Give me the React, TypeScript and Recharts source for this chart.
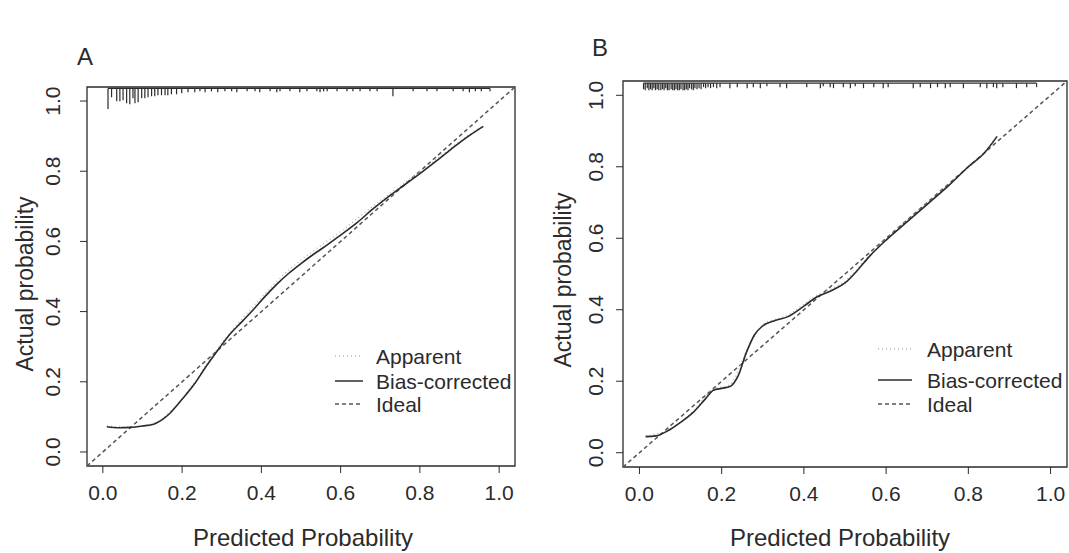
import {
  ComposedChart,
  Line,
  ReferenceArea,
  ReferenceLine,
  XAxis,
  YAxis,
} from "recharts";

const xTicks = [0, 0.2, 0.4, 0.6, 0.8, 1];
const yTicks = [0, 0.2, 0.4, 0.6, 0.8, 1];
const limits: [number, number] = [-0.04, 1.04];
const ideal = [
  { p: -0.04, v: -0.04 },
  { p: 1.04, v: 1.04 },
];
const legendLabels = ["Apparent", "Bias-corrected", "Ideal"];

const biasA = [
  { p: 0.01, v: 0.072 }, { p: 0.04, v: 0.069 }, { p: 0.07, v: 0.07 },
  { p: 0.1, v: 0.074 }, { p: 0.13, v: 0.08 }, { p: 0.15, v: 0.092 },
  { p: 0.17, v: 0.111 }, { p: 0.2, v: 0.15 }, { p: 0.23, v: 0.192 },
  { p: 0.26, v: 0.243 }, { p: 0.29, v: 0.29 }, { p: 0.32, v: 0.335 },
  { p: 0.35, v: 0.37 }, { p: 0.38, v: 0.406 }, { p: 0.41, v: 0.444 },
  { p: 0.44, v: 0.479 }, { p: 0.47, v: 0.51 }, { p: 0.5, v: 0.537 },
  { p: 0.53, v: 0.562 }, { p: 0.56, v: 0.585 }, { p: 0.6, v: 0.618 },
  { p: 0.64, v: 0.652 }, { p: 0.68, v: 0.691 }, { p: 0.72, v: 0.727 },
  { p: 0.76, v: 0.76 }, { p: 0.8, v: 0.793 }, { p: 0.84, v: 0.828 },
  { p: 0.88, v: 0.864 }, { p: 0.92, v: 0.898 }, { p: 0.96, v: 0.928 },
];

const apparentA = [
  { p: 0.01, v: 0.074 }, { p: 0.07, v: 0.071 }, { p: 0.13, v: 0.082 },
  { p: 0.17, v: 0.115 }, { p: 0.23, v: 0.196 }, { p: 0.29, v: 0.296 },
  { p: 0.35, v: 0.378 }, { p: 0.41, v: 0.452 }, { p: 0.47, v: 0.519 },
  { p: 0.53, v: 0.572 }, { p: 0.6, v: 0.628 }, { p: 0.68, v: 0.699 },
  { p: 0.76, v: 0.766 }, { p: 0.84, v: 0.833 }, { p: 0.92, v: 0.901 },
  { p: 0.96, v: 0.93 },
];

const biasB = [
  { p: 0.015, v: 0.045 }, { p: 0.04, v: 0.047 }, { p: 0.07, v: 0.062 },
  { p: 0.1, v: 0.085 }, { p: 0.13, v: 0.112 }, { p: 0.16, v: 0.15 },
  { p: 0.18, v: 0.175 }, { p: 0.2, v: 0.18 }, { p: 0.22, v: 0.185 },
  { p: 0.24, v: 0.215 }, { p: 0.26, v: 0.28 }, { p: 0.28, v: 0.33 },
  { p: 0.3, v: 0.355 }, { p: 0.33, v: 0.37 }, { p: 0.36, v: 0.38 },
  { p: 0.4, v: 0.41 }, { p: 0.43, v: 0.435 }, { p: 0.47, v: 0.455 },
  { p: 0.5, v: 0.475 }, { p: 0.53, v: 0.51 }, { p: 0.56, v: 0.55 },
  { p: 0.6, v: 0.595 }, { p: 0.65, v: 0.645 }, { p: 0.7, v: 0.695 },
  { p: 0.75, v: 0.745 }, { p: 0.8, v: 0.8 }, { p: 0.84, v: 0.84 },
  { p: 0.87, v: 0.885 },
];

const apparentB = [
  { p: 0.015, v: 0.047 }, { p: 0.07, v: 0.064 }, { p: 0.13, v: 0.115 },
  { p: 0.18, v: 0.178 }, { p: 0.22, v: 0.19 }, { p: 0.26, v: 0.283 },
  { p: 0.3, v: 0.358 }, { p: 0.36, v: 0.385 }, { p: 0.43, v: 0.44 },
  { p: 0.5, v: 0.48 }, { p: 0.56, v: 0.553 }, { p: 0.65, v: 0.648 },
  { p: 0.75, v: 0.748 }, { p: 0.84, v: 0.842 }, { p: 0.87, v: 0.887 },
];

// distribution of predicted risks drawn at the top (p, count)
const rugA = [
  { p: 0.013, n: 21 }, { p: 0.022, n: 9 }, { p: 0.035, n: 13 }, { p: 0.043, n: 13 },
  { p: 0.051, n: 12 }, { p: 0.06, n: 15 }, { p: 0.068, n: 16 }, { p: 0.076, n: 10 },
  { p: 0.081, n: 15 }, { p: 0.089, n: 14 }, { p: 0.098, n: 10 }, { p: 0.106, n: 10 },
  { p: 0.114, n: 9 }, { p: 0.123, n: 8 }, { p: 0.131, n: 8 }, { p: 0.139, n: 7 },
  { p: 0.148, n: 7 }, { p: 0.157, n: 7 }, { p: 0.164, n: 7 }, { p: 0.173, n: 6 },
  { p: 0.186, n: 6 }, { p: 0.199, n: 5 }, { p: 0.215, n: 4 }, { p: 0.232, n: 4 },
  { p: 0.245, n: 3 }, { p: 0.258, n: 4 }, { p: 0.274, n: 3 }, { p: 0.29, n: 4 },
  { p: 0.308, n: 3 }, { p: 0.325, n: 3 }, { p: 0.338, n: 4 }, { p: 0.364, n: 3 },
  { p: 0.384, n: 3 }, { p: 0.396, n: 4 }, { p: 0.422, n: 3 }, { p: 0.439, n: 4 },
  { p: 0.447, n: 3 }, { p: 0.472, n: 3 }, { p: 0.497, n: 4 }, { p: 0.515, n: 3 },
  { p: 0.54, n: 3 }, { p: 0.548, n: 4 }, { p: 0.557, n: 3 }, { p: 0.566, n: 3 },
  { p: 0.591, n: 3 }, { p: 0.616, n: 3 }, { p: 0.631, n: 3 }, { p: 0.649, n: 3 },
  { p: 0.674, n: 3 }, { p: 0.692, n: 3 }, { p: 0.732, n: 8 }, { p: 0.783, n: 3 },
  { p: 0.818, n: 3 }, { p: 0.843, n: 3 }, { p: 0.884, n: 3 }, { p: 0.909, n: 3 },
  { p: 0.925, n: 4 }, { p: 0.94, n: 3 }, { p: 0.955, n: 3 }, { p: 0.977, n: 3 },
];

const rugB = [
  { p: 0.01, n: 6 }, { p: 0.014, n: 7 }, { p: 0.019, n: 5 }, { p: 0.023, n: 7 },
  { p: 0.027, n: 6 }, { p: 0.031, n: 7 }, { p: 0.035, n: 5 }, { p: 0.039, n: 7 },
  { p: 0.043, n: 6 }, { p: 0.047, n: 7 }, { p: 0.052, n: 7 }, { p: 0.056, n: 6 },
  { p: 0.06, n: 7 }, { p: 0.064, n: 5 }, { p: 0.068, n: 7 }, { p: 0.072, n: 7 },
  { p: 0.077, n: 6 }, { p: 0.081, n: 7 }, { p: 0.085, n: 7 }, { p: 0.089, n: 6 },
  { p: 0.093, n: 7 }, { p: 0.097, n: 7 }, { p: 0.101, n: 6 }, { p: 0.106, n: 7 },
  { p: 0.11, n: 7 }, { p: 0.114, n: 6 }, { p: 0.118, n: 7 }, { p: 0.122, n: 5 },
  { p: 0.127, n: 6 }, { p: 0.131, n: 7 }, { p: 0.135, n: 5 }, { p: 0.14, n: 6 },
  { p: 0.145, n: 5 }, { p: 0.15, n: 6 }, { p: 0.156, n: 4 }, { p: 0.161, n: 5 },
  { p: 0.167, n: 4 }, { p: 0.173, n: 5 }, { p: 0.18, n: 4 }, { p: 0.188, n: 5 },
  { p: 0.196, n: 4 }, { p: 0.22, n: 5 }, { p: 0.238, n: 4 }, { p: 0.262, n: 5 },
  { p: 0.277, n: 4 }, { p: 0.294, n: 5 }, { p: 0.31, n: 3 }, { p: 0.342, n: 4 },
  { p: 0.358, n: 5 }, { p: 0.407, n: 4 }, { p: 0.44, n: 5 }, { p: 0.447, n: 3 },
  { p: 0.464, n: 4 }, { p: 0.472, n: 5 }, { p: 0.496, n: 4 }, { p: 0.513, n: 5 },
  { p: 0.525, n: 3 }, { p: 0.545, n: 5 }, { p: 0.57, n: 4 }, { p: 0.593, n: 5 },
  { p: 0.605, n: 4 }, { p: 0.666, n: 5 }, { p: 0.683, n: 4 }, { p: 0.708, n: 5 },
  { p: 0.725, n: 4 }, { p: 0.744, n: 5 }, { p: 0.756, n: 4 }, { p: 0.788, n: 5 },
  { p: 0.829, n: 4 }, { p: 0.845, n: 5 }, { p: 0.861, n: 4 }, { p: 0.869, n: 5 },
  { p: 0.884, n: 4 }, { p: 0.917, n: 5 }, { p: 0.942, n: 4 }, { p: 0.966, n: 4 },
];

const ink = "#2b2b2b";
const font = '"Liberation Sans", Arial, sans-serif';
const rugStep = 0.0028;

function YTick({ x, y, payload }: any) {
  return (
    <text
      x={x}
      y={y}
      transform={`rotate(-90 ${x} ${y})`}
      textAnchor="middle"
      fill={ink}
      fontSize={21}
      fontFamily={font}
    >
      {Number(payload.value).toFixed(1)}
    </text>
  );
}

function CalPanel(props: any) {
  const { left, width, top, right, yWidth, xHeight, yTickMargin, bias, apparent, rug, rugTop } = props;
  return (
    <div style={{ position: "absolute", left, top: 0, width, height: 553 }}>
      <ComposedChart width={width} height={553} margin={{ top, right, bottom: 0, left: 0 }}>
        <XAxis
          dataKey="p"
          type="number"
          domain={limits}
          ticks={xTicks}
          allowDataOverflow
          axisLine={false}
          tickSize={7}
          tickMargin={12}
          height={xHeight}
          tickLine={{ stroke: ink }}
          tick={{ fill: ink, fontSize: 21, fontFamily: font }}
          tickFormatter={(v: number) => v.toFixed(1)}
        />
        <YAxis
          dataKey="v"
          type="number"
          domain={limits}
          ticks={yTicks}
          allowDataOverflow
          axisLine={false}
          tickSize={7}
          tickMargin={yTickMargin}
          width={yWidth}
          tickLine={{ stroke: ink }}
          tick={<YTick />}
        />
        <ReferenceArea x1={-0.04} x2={1.04} y1={-0.04} y2={1.04} fill="none" stroke={ink} strokeWidth={1.3} />
        <ReferenceLine
          segment={[{ x: rug[0].p, y: rugTop }, { x: rug[rug.length - 1].p, y: rugTop }]}
          stroke={ink}
          strokeWidth={1.3}
          ifOverflow="visible"
        />
        {rug.map((r: any) => (
          <ReferenceLine
            key={r.p}
            segment={[{ x: r.p, y: rugTop }, { x: r.p, y: rugTop - r.n * rugStep }]}
            stroke={ink}
            strokeWidth={1.2}
            ifOverflow="visible"
          />
        ))}
        <Line data={ideal} dataKey="v" type="linear" stroke="#555" strokeWidth={1.5} strokeDasharray="4 3" dot={false} isAnimationActive={false} />
        <Line data={apparent} dataKey="v" type="monotone" stroke="#b5b5b5" strokeWidth={1.3} strokeDasharray="1 3" dot={false} isAnimationActive={false} />
        <Line data={bias} dataKey="v" type="monotone" stroke={ink} strokeWidth={1.6} dot={false} isAnimationActive={false} />
      </ComposedChart>
    </div>
  );
}

function Title({ x, y, text, rotate, size = 22 }: any) {
  return (
    <div
      style={{
        position: "absolute",
        left: x,
        top: y,
        transform: `translate(-50%, -50%)${rotate ? " rotate(-90deg)" : ""}`,
        whiteSpace: "nowrap",
        fontFamily: font,
        fontSize: size,
        color: ink,
        lineHeight: 1,
      }}
    >
      {text}
    </div>
  );
}

function Key({ x, textX, rows, lineW }: any) {
  const styles = [
    { stroke: "#b5b5b5", dash: "1 3" },
    { stroke: ink, dash: undefined },
    { stroke: "#555", dash: "4 3" },
  ];
  return (
    <>
      {legendLabels.map((label, i) => (
        <div key={label}>
          <svg style={{ position: "absolute", left: x, top: rows[i] - 5, overflow: "visible" }} width={lineW} height={10}>
            <line x1={0} x2={lineW} y1={5} y2={5} stroke={styles[i].stroke} strokeWidth={1.5} strokeDasharray={styles[i].dash} />
          </svg>
          <div
            style={{
              position: "absolute",
              left: textX,
              top: rows[i],
              transform: "translateY(-50%)",
              fontFamily: font,
              fontSize: 21,
              color: ink,
              whiteSpace: "nowrap",
              lineHeight: 1,
            }}
          >
            {label}
          </div>
        </div>
      ))}
    </>
  );
}

export default function App() {
  return (
    <div style={{ position: "absolute", left: 0, top: 0, width: 1069, height: 553, background: "#fff", overflow: "hidden" }}>
      <CalPanel left={0} width={540} top={87} right={25} yWidth={87} xHeight={87} yTickMargin={20} bias={biasA} apparent={apparentA} rug={rugA} rugTop={1.036} />
      <CalPanel left={540} width={529} top={81} right={2} yWidth={83} xHeight={86} yTickMargin={13} bias={biasB} apparent={apparentB} rug={rugB} rugTop={1.034} />
      <Title x={85} y={57} text="A" size={24} />
      <Title x={600} y={48} text="B" size={24} />
      <Title x={25} y={284} text="Actual probability" rotate size={23} />
      <Title x={563} y={280} text="Actual probability" rotate size={23} />
      <Title x={303} y={538} text="Predicted Probability" size={24} />
      <Title x={840} y={538} text="Predicted Probability" size={24} />
      <Key x={335} textX={376} rows={[356, 381, 404]} lineW={28} />
      <Key x={878} textX={927} rows={[349, 380, 404]} lineW={34} />
    </div>
  );
}
